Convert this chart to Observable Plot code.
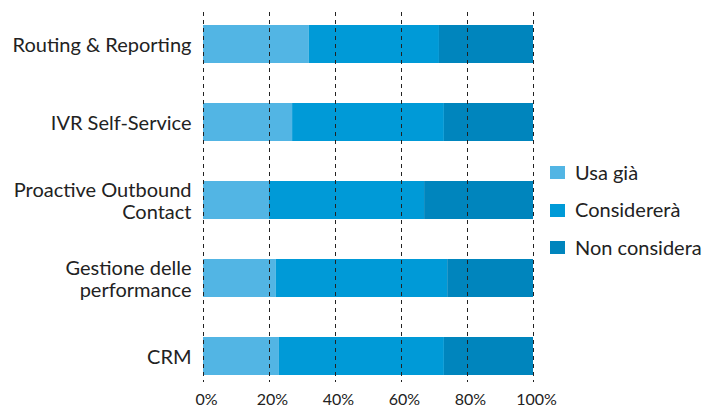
<!DOCTYPE html>
<html>
<head>
<meta charset="utf-8">
<script src="https://cdn.jsdelivr.net/npm/d3@7"></script>
<script src="https://cdn.jsdelivr.net/npm/@observablehq/plot@0.6"></script>
<style>
  html, body { margin: 0; padding: 0; background: #fff; }
  #wrap { position: relative; width: 702px; height: 409px; font-family: Lato, "Open Sans", sans-serif; }
  #legend { position: absolute; left: 550px; top: 154px; color: #222; font-size: 20px; }
  .item { display: flex; align-items: center; height: 37.5px; }
  .item span { position: relative; top: -1px; }
  .sw { width: 15px; height: 13px; margin-right: 10px; }
</style>
</head>
<body>
<div id="wrap"><div id="chart"></div><div id="legend"></div></div>
<script>
const categories = ["Routing & Reporting", "IVR Self-Service", "Proactive Outbound\nContact", "Gestione delle\nperformance", "CRM"];
const series = ["Usa già", "Considererà", "Non considera"];
const usaGia = [32, 27, 20, 22, 23];
const considerera = [39.5, 46, 47, 52, 50];
const nonConsidera = [28.5, 27, 33, 26, 27];
const colors = ["#52b5e4", "#009ad7", "#0085bd"];
const xTicks = [0, 20, 40, 60, 80, 100];

const values = [usaGia, considerera, nonConsidera];
const data = [];
categories.forEach((c, i) => {
  series.forEach((s, j) => data.push({category: c, series: s, value: values[j][i]}));
});

const chart = Plot.plot({
  width: 702,
  height: 409,
  marginLeft: 203,
  marginRight: 169,
  marginTop: 12,
  marginBottom: 27,
  style: {fontFamily: "Lato, 'Open Sans', sans-serif", color: "#222", background: "white"},
  x: {domain: [0, 100]},
  y: {domain: categories, range: [25, 376], paddingInner: 0.51, paddingOuter: 0, align: 0.5},
  color: {domain: series, range: colors},
  marks: [
    Plot.barX(data, Plot.stackX({y: "category", x: "value", fill: "series", order: null})),
    Plot.gridX(xTicks, {stroke: "#222", strokeOpacity: 1, strokeWidth: 1, strokeDasharray: "4,4"}),
    Plot.axisX(xTicks, {tickSize: 0, tickPadding: 11, fontSize: 16, dx: 3, tickFormat: d => d + "%", label: null, fill: "#222"}),
    Plot.axisY({tickSize: 0, tickPadding: 12, fontSize: 20, lineHeight: 1.1, label: null, fill: "#222"})
  ]
});
document.getElementById("chart").appendChild(chart);

const legend = document.getElementById("legend");
series.forEach((s, j) => {
  const item = document.createElement("div");
  item.className = "item";
  const sw = document.createElement("div");
  sw.className = "sw";
  sw.style.background = colors[j];
  const t = document.createElement("span");
  t.textContent = s;
  item.appendChild(sw);
  item.appendChild(t);
  legend.appendChild(item);
});
</script>
</body>
</html>
